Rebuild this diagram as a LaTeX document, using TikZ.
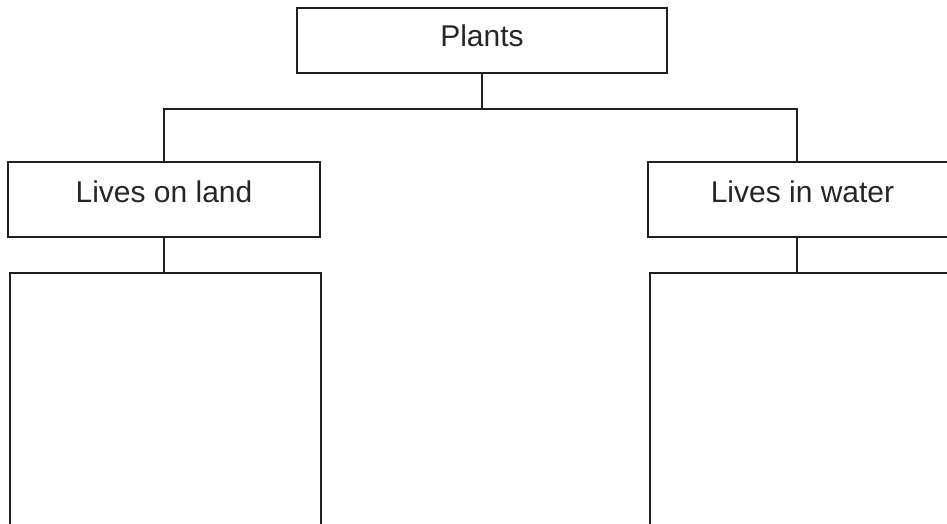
\documentclass[tikz,border=0pt]{standalone}
\usepackage{fontspec}
\setmainfont{Liberation Sans}
\begin{document}
\begin{tikzpicture}[x=1pt,y=-1pt,
  box/.style={draw=black!88, line width=1.5pt, rectangle, inner sep=0pt,
    font=\fontsize{30}{36}\selectfont, text=black!85, text height=22pt},
  link/.style={draw=black!88, line width=1.5pt}]
\useasboundingbox (0,0) rectangle (947,524);
\clip (0,0) rectangle (947,524);
\node[box, minimum width=370pt, minimum height=65pt, text depth=9.5pt] (plants) at (482,40.5) {Plants};
\node[box, minimum width=312pt, minimum height=75pt, text depth=15.5pt] (land) at (164,199.5) {Lives on land};
\node[box, minimum width=309pt, minimum height=75pt, text depth=16.5pt] (water) at (802.5,199.5) {Lives in water};
\node[box, minimum width=311pt, minimum height=257pt] (landlist) at (165.5,401.5) {};
\node[box, minimum width=307pt, minimum height=257pt] (waterlist) at (803.5,401.5) {};
\coordinate (bus) at (483,109);
\coordinate (wtop) at ([xshift=-5.5pt]water.north);
\coordinate (wbot) at ([xshift=-5.5pt]water.south);
\draw[link] (plants.south) -- (plants.south |- bus);
\draw[link] (land.north) -- (land.north |- bus) -- (wtop |- bus) -- (wtop);
\draw[link] (land.south) -- (land.south |- landlist.north);
\draw[link] (wbot) -- (wbot |- waterlist.north);
\end{tikzpicture}
\end{document}
